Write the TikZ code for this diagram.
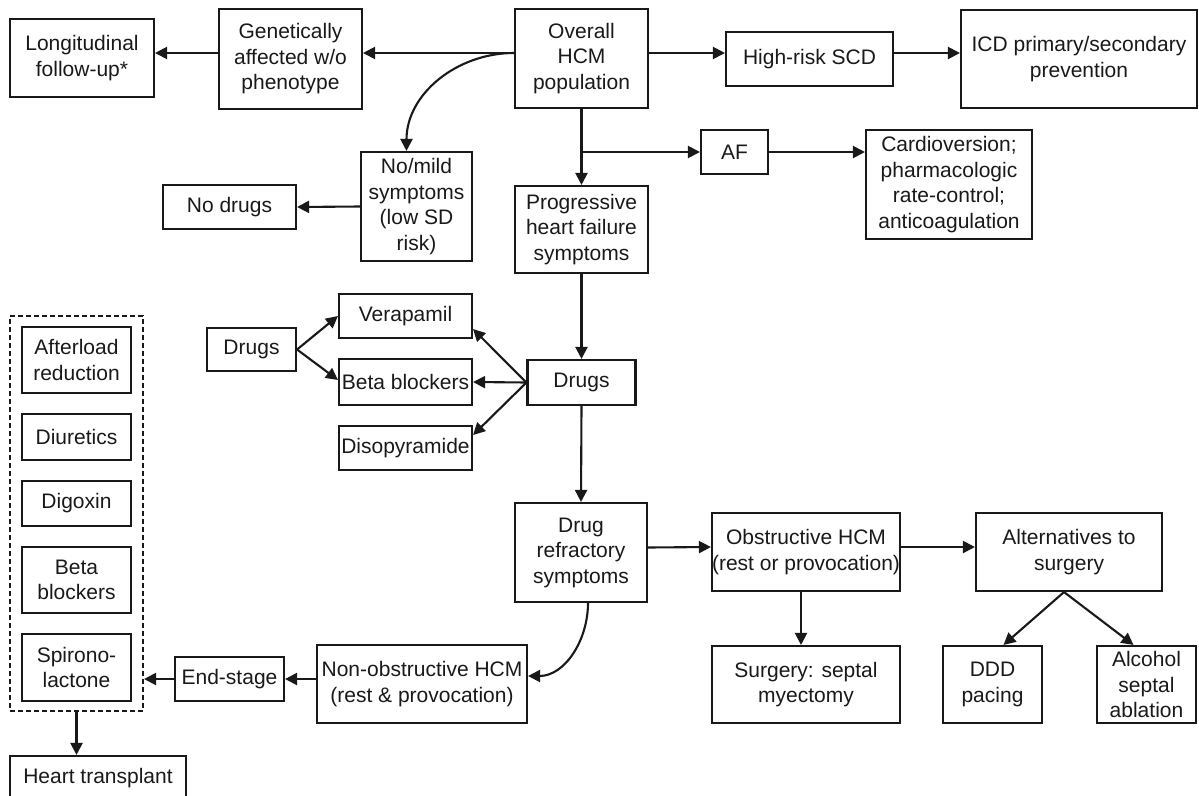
\documentclass[tikz,border=0pt]{standalone}
\usepackage{fontspec}
\setmainfont{Liberation Sans}
\usetikzlibrary{arrows.meta}
\definecolor{ink}{RGB}{25,25,25}
\tikzset{
  bx/.style args={#1/#2}{draw=ink, line width=2.1pt, align=center, inner sep=0pt,
     text=ink, font=\fontsize{21}{25.5}\selectfont,
     minimum width=#1pt, minimum height=#2pt},
  dbx/.style args={#1/#2}{draw=ink, line width=2.1pt, dash pattern=on 5pt off 3pt,
     inner sep=0pt, minimum width=#1pt, minimum height=#2pt},
  arr/.style={draw=ink, line width=2.1pt, -{Triangle[length=12pt,width=12pt]}},
}
\begin{document}
\begin{tikzpicture}[x=1pt,y=-1pt]
\clip (0,0) rectangle (1199,795);
% top row
\node[bx=144/78] (lon) at (82,58) {Longitudinal\\follow-up*};
\node[bx=143/100] (gen) at (290.5,59) {Genetically\\affected w/o\\phenotype};
\node[bx=133/99] (ovr) at (581.5,58.5) {Overall\\HCM\\population};
\node[bx=167/54] (hrs) at (809.5,59) {High-risk SCD};
\node[bx=236/98] (icd) at (1079,59) {ICD primary/secondary\\prevention};
% second row
\node[bx=67/44] (af) at (734.5,152) {AF};
\node[bx=166/109] (card) at (949,184.5) {Cardioversion;\\pharmacologic\\rate-control;\\anticoagulation};
\node[bx=111/109] (nom) at (416.5,206.5) {No/mild\\symptoms\\(low SD\\risk)};
\node[bx=133/44] (nod) at (229.5,207) {No drugs};
\node[bx=133/87] (prog) at (581.5,229.5) {Progressive\\heart failure\\symptoms};
% drugs
\node[bx=89/43] (drl) at (251.5,349.5) {Drugs};
\node[bx=133/44] (ver) at (405.5,316) {Verapamil};
\node[bx=133/46] (bbm) at (405.5,382) {Beta blockers};
\node[bx=133/44] (dis) at (405.5,448) {Disopyramide};
\node[bx=108/45] (drm) at (581.5,382.5) {Drugs};
% dashed group
\node[dbx=133/395] (grp) at (76.5,513.5) {};
\node[bx=109/66] (aft) at (76.5,360) {Afterload\\reduction};
\node[bx=109/46] (diu) at (76.5,437) {Diuretics};
\node[bx=109/45] (dig) at (76.5,503.5) {Digoxin};
\node[bx=109/66] (bbl) at (76.5,580) {Beta\\blockers};
\node[bx=109/67] (spi) at (76.5,667.5) {Spirono-\\lactone};
\node[bx=176/44] (htr) at (98,778) {Heart transplant};
% lower part
\node[bx=132/99] (drr) at (581,552.5) {Drug\\refractory\\symptoms};
\node[bx=188/78] (obs) at (806,552) {Obstructive HCM\\(rest or provocation)};
\node[bx=186/78] (alt) at (1069,552) {Alternatives to\\surgery};
\node[bx=188/77] (sur) at (806,684.5) {Surgery: septal\\myectomy};
\node[bx=99/77] (ddd) at (992.5,684.5) {DDD\\pacing};
\node[bx=99/77] (alc) at (1146.5,684.5) {Alcohol\\septal\\ablation};
\node[bx=109/44] (est) at (229.5,679) {End-stage};
\node[bx=210/78] (non) at (422,684) {Non-obstructive HCM\\(rest \& provocation)};
% connectors
\draw[arr] ([yshift=5.5pt]ovr.west) -- ([yshift=6pt]gen.east);
\draw[arr] ([yshift=6pt]gen.west) -- ([yshift=5pt]lon.east);
\draw[arr] ([yshift=5.5pt]ovr.east) -- ([yshift=6pt]hrs.west);
\draw[arr] ([yshift=6pt]hrs.east) -- ([yshift=6pt]icd.west);
\draw[arr] ([yshift=5.5pt]ovr.west) to[out=180,in=90] ([xshift=-10pt]nom.north);
\draw[arr] (ovr.south) -- (prog.north);
\draw[arr] (ovr.south |- af.west) -- (af.west);
\draw[arr] (af.east) -- (card.west |- af.east);
\draw[arr] (nom.west) -- (nod.east);
\draw[arr] (prog.south) -- (drm.north);
\draw[arr] (drm.west) -- ([yshift=10pt]ver.south east);
\draw[arr] (drm.west) -- (bbm.east);
\draw[arr] (drm.west) -- ([yshift=13pt]dis.east);
\draw[arr] (drl.east) -- (ver.west);
\draw[arr] (drl.east) -- ([yshift=2pt]bbm.west);
\draw[arr] (drm.south) -- (drr.north);
\draw[arr] ([yshift=5pt]drr.east) -- ([yshift=5pt]obs.west);
\draw[arr] ([yshift=5pt]obs.east) -- ([yshift=5pt]alt.west);
\draw[arr] ([xshift=-5pt]obs.south) -- ([xshift=-5pt]sur.north);
\draw[arr] ([xshift=-5pt]alt.south) -- ([xshift=11pt]ddd.north);
\draw[arr] ([xshift=-5pt]alt.south) -- ([xshift=-13pt]alc.north);
\draw[arr] ([xshift=7pt]drr.south) to[out=-90,in=0] ([yshift=8pt]non.east);
\draw[arr] ([yshift=5pt]non.west) -- (est.east);
\draw[arr] (est.west) -- (grp.east |- est.west);
\draw[arr] (grp.south) -- (htr.north -| grp.south);
\end{tikzpicture}
\end{document}
